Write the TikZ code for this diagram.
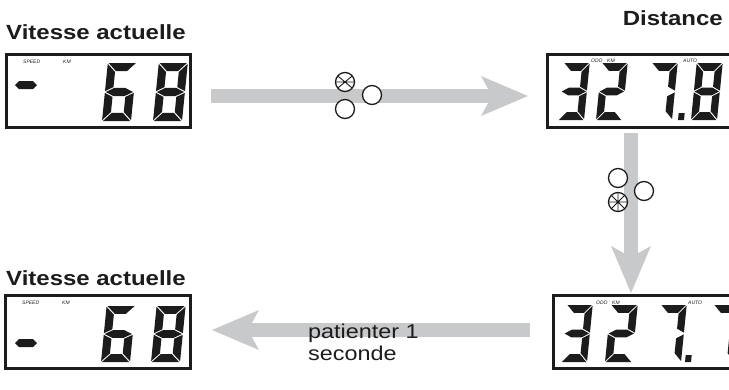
\documentclass[tikz,border=0pt]{standalone}
\usepackage{fontspec}
\setmainfont{Liberation Sans}
\usepackage{graphicx}
\usetikzlibrary{arrows.meta,calc}
\definecolor{arrowgray}{RGB}{200,201,203}
\definecolor{ink}{RGB}{28,28,28}
\newcommand\wide[1]{\scalebox{1.17}[1]{#1}}
\newcommand\lcdSa{\fill (0.3,20) -- (9.7,20) -- (6.9,17.2) -- (3.1,17.2) -- cycle;}
\newcommand\lcdSd{\fill (0.3,0) -- (9.7,0) -- (6.9,2.8) -- (3.1,2.8) -- cycle;}
\newcommand\lcdSg{\fill (0.3,10) -- (3.1,11.4) -- (6.9,11.4) -- (9.7,10) -- (6.9,8.6) -- (3.1,8.6) -- cycle;}
\newcommand\lcdSf{\fill (0,19.7) -- (2.8,16.9) -- (2.8,11.7) -- (0,10.3) -- cycle;}
\newcommand\lcdSe{\fill (0,0.3) -- (2.8,3.1) -- (2.8,8.3) -- (0,9.7) -- cycle;}
\newcommand\lcdSb{\fill (10,19.7) -- (7.2,16.9) -- (7.2,11.7) -- (10,10.3) -- cycle;}
\newcommand\lcdSc{\fill (10,0.3) -- (7.2,3.1) -- (7.2,8.3) -- (10,9.7) -- cycle;}
\newcommand\lcdd[5]{\begin{scope}[shift={(#1,#2)},x=#3pt,y=#4pt,xslant=0.1]\foreach \s in {#5}{\csname lcdS\s\endcsname}\end{scope}}
\tikzset{
  lcdbox/.style={draw=ink,line width=3pt,rectangle,minimum height=73pt,inner sep=0pt},
  title/.style={font=\fontsize{20.5}{24}\selectfont\bfseries,text=ink,inner sep=0pt},
  plain/.style={font=\fontsize{20}{22}\selectfont,text=ink,inner sep=0pt,align=left},
  tiny/.style={font=\fontsize{5}{5}\selectfont\itshape,text=ink,inner sep=0pt,anchor=west},
  button/.style={circle,draw=ink,line width=1.3pt,fill=white,minimum size=19pt,inner sep=0pt,outer sep=0pt},
  spoke/.style={draw=ink,line width=0.9pt},
  bigarrow/.style={draw=arrowgray,line width=14pt,-{Stealth[length=47pt,width=40pt,inset=11pt,line width=0pt]}}
}
\begin{document}
\begin{tikzpicture}[x=1pt,y=-1pt]
\useasboundingbox (0,0) rectangle (729,389);
\clip (0,0) rectangle (729,389);
% titles
\node[title,anchor=base west] (t1) at (6,39) {\wide{Vitesse actuelle}};
\node[title,anchor=base east] (t2) at (723,25) {\wide{Distance}};
\node[title,anchor=base west] (t4) at (6,285) {\wide{Vitesse actuelle}};
% LCD boxes
\node[lcdbox,minimum width=184pt] (lcd1) at (98,90.5) {};
\node[lcdbox,minimum width=186pt] (lcd2) at (640,90.5) {};
\node[lcdbox,minimum width=182pt] (lcd3) at (644,331.5) {};
\node[lcdbox,minimum width=185pt] (lcd4) at (97.5,331.5) {};
% arrows
\draw[bigarrow,shorten <=19.5pt,shorten >=17.5pt] ([yshift=-5.5pt]lcd1.east) -- ([yshift=-5.5pt]lcd2.west);
\draw[bigarrow,shorten <=4.5pt,shorten >=0.5pt] ([xshift=-9pt]lcd2.south) -- ([xshift=-13pt]lcd3.north);
\draw[bigarrow,shorten <=21.5pt,shorten >=20.5pt] ([yshift=1.5pt]lcd3.west) -- ([yshift=1.5pt]lcd4.east);
% LCD contents
\begin{scope}[ink]
\fill (15,85) -- (19,81) -- (33,81) -- (37,85) -- (33,89) -- (19,89) -- cycle;
\lcdd{102}{121}{2.9}{2.9}{a,f,g,e,d,c}
\lcdd{153}{121}{2.9}{2.9}{a,b,c,d,e,f,g}
% LCD 2
\lcdd{558}{120}{2.6}{2.85}{a,b,g,c,d}
\lcdd{596}{120}{2.6}{2.85}{a,b,g,e,d}
\lcdd{646}{120}{2.6}{2.85}{a,b,c}
\fill (678,120) -- (684,120) -- (684.7,113) -- (678.7,113) -- cycle;
\lcdd{691}{120}{2.6}{2.85}{a,b,c,d,e,f,g}
% LCD 3
\lcdd{561}{362}{2.6}{2.85}{a,b,g,c,d}
\lcdd{605}{362}{2.7}{2.85}{a,b,g,e,d}
\lcdd{655}{362}{2.6}{2.85}{a,b,c}
\fill (685,362) -- (691,362) -- (691.7,355) -- (685.7,355) -- cycle;
\lcdd{708}{362}{2.6}{2.85}{a,b,c}
% LCD 4
\fill (15,343) -- (19,339) -- (33,339) -- (37,343) -- (33,347) -- (19,347) -- cycle;
\lcdd{101}{362}{2.9}{2.8}{a,f,g,e,d,c}
\lcdd{151}{362}{2.9}{2.8}{a,b,c,d,e,f,g}
\end{scope}
\node[tiny] (sp1) at (23,62) {SPEED};
\node[tiny] (km1) at (63,62) {KM};
\node[tiny] (odo2) at (591,61) {ODO};
\node[tiny] (km2) at (607,61) {KM};
\node[tiny] (au2) at (683,61) {AUTO};
\node[tiny] (odo3) at (596,303) {ODO};
\node[tiny] (km3) at (612,303) {KM};
\node[tiny] (au3) at (688,303) {AUTO};
\node[tiny] (sp4) at (22,303) {SPEED};
\node[tiny] (km4) at (62,303) {KM};
% buttons top
\node[button] (bx) at (345,82) {};
\draw[spoke] (bx.0) -- (bx.180) (bx.40) -- (bx.220) (bx.140) -- (bx.320);
\node[button] (ba) at (345,109) {};
\node[button] (bb) at (372,95) {};
% buttons right
\node[button] (bc) at (618,178) {};
\node[button] (bs) at (618,202) {};
\draw[spoke] (bs.0) -- (bs.180) (bs.45) -- (bs.225) (bs.90) -- (bs.270) (bs.135) -- (bs.315);
\node[button] (bd) at (644,191) {};
% wait text
\node[plain,anchor=base west] (wait) at (308,360) {\wide{patienter 1}\\\wide{seconde}};
\end{tikzpicture}
\end{document}
